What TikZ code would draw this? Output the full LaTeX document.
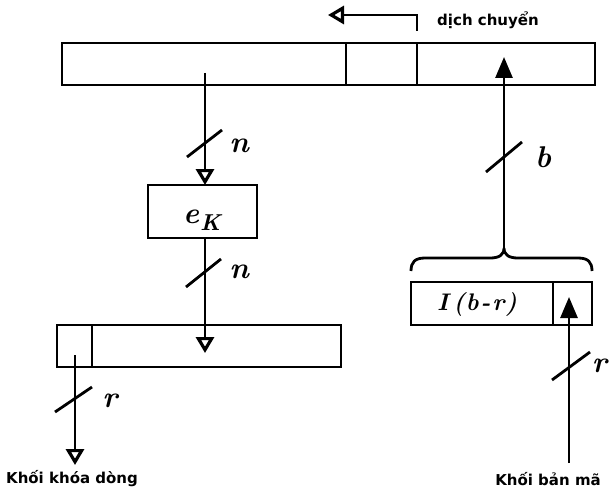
\documentclass[tikz,border=0pt]{standalone}
\usepackage{fontspec}
\newfontfamily\labfont{DejaVu Sans Bold}
\usetikzlibrary{arrows.meta}
\begin{document}
\begin{tikzpicture}[x=1pt,y=-1pt,
  reg/.style={draw,line width=2.2pt,inner sep=0pt,outer sep=0pt,anchor=north west},
  wire/.style={line width=2.8pt},
  dtip/.style={-{Triangle[open,length=16pt,width=18pt,line width=3.2pt]}},
  utip/.style={-{Triangle[length=21pt,width=17pt]}},
  slash/.style={line width=2.8pt},
  lab/.style={font=\labfont\fontsize{15}{18}\selectfont,inner sep=0pt},
  mlab/.style={font=\fontsize{30}{34}\selectfont\bfseries\itshape,inner sep=0pt}]
\useasboundingbox (0,0) rectangle (609,492);
% registers
\node[reg,minimum width=284pt,minimum height=42pt] (topA) at (62,43) {};
\node[reg,minimum width=71pt,minimum height=42pt] (topB) at (346,43) {};
\node[reg,minimum width=178pt,minimum height=42pt] (topC) at (417,43) {};
\node[reg,minimum width=109pt,minimum height=53pt] (ek) at (148,185) {};
\node[mlab,anchor=base west] (ektext) at (183,223) {e\kern1pt\raisebox{-7pt}{\fontsize{23}{26}\selectfont K}};
\node[reg,minimum width=35pt,minimum height=42pt] (botA) at (57,325) {};
\node[reg,minimum width=249pt,minimum height=42pt] (botB) at (92,325) {};
\node[reg,minimum width=142pt,minimum height=43pt] (rA) at (411,282) {};
\node[reg,minimum width=39pt,minimum height=43pt] (rB) at (553,282) {};
\node[mlab,font=\fontsize{24}{28}\selectfont\bfseries\itshape] (ibr) at (477,304) {I\kern5pt(\kern1pt b\kern2pt-\kern2pt r\kern1pt)};
% texts
\node[lab] (shifttext) at (488,20) {dịch chuyển};
\node[lab] (khoa) at (72,479) {Khối khóa dòng};
\node[lab] (banma) at (548,479) {Khối bản mã};
% coordinates
\coordinate (s0) at (417,31);
\coordinate (s1) at (328,15);
\coordinate (a1) at (205,73);
\coordinate (a2) at (205,353);
\coordinate (r0) at (75,355);
\coordinate (r1) at (75,465);
\coordinate (btip) at (504,248);
\coordinate (btop) at (504,57);
\coordinate (c0) at (569,463);
\coordinate (c1) at (569,297);
% arrows
\draw[wire,dtip] (s0) |- (s1);
\draw[wire,dtip] (a1) -- (a1 |- ek.north);
\draw[wire,dtip] (ek.south -| a1) -- (a2);
\draw[wire,dtip] (r0) -- (r1);
\draw[wire,utip] (btip) -- (btop);
\draw[wire,utip] (c0) -- (c1);
% brace
\draw[wire] (411,271) .. controls (411,262) and (415,258) .. (425,258) -- (490,258)
  .. controls (499,258) and (504,255) .. (btip)
  .. controls (504,255) and (509,258) .. (518,258) -- (578,258)
  .. controls (588,258) and (592,262) .. (592,271);
% slashes
\draw[slash] (187,157) -- (222,130);
\draw[slash] (186,287) -- (221,259);
\draw[slash] (55,412) -- (92,387);
\draw[slash] (486,172) -- (522,142);
\draw[slash] (552,380) -- (590,352);
% slash labels
\node[mlab] (n1) at (239,146) {n};
\node[mlab] (n2) at (239,272) {n};
\node[mlab] (rl) at (110,401) {r};
\node[mlab] (bl) at (543,157) {b};
\node[mlab,anchor=east] (rr) at (607,366) {r};
\end{tikzpicture}
\end{document}
